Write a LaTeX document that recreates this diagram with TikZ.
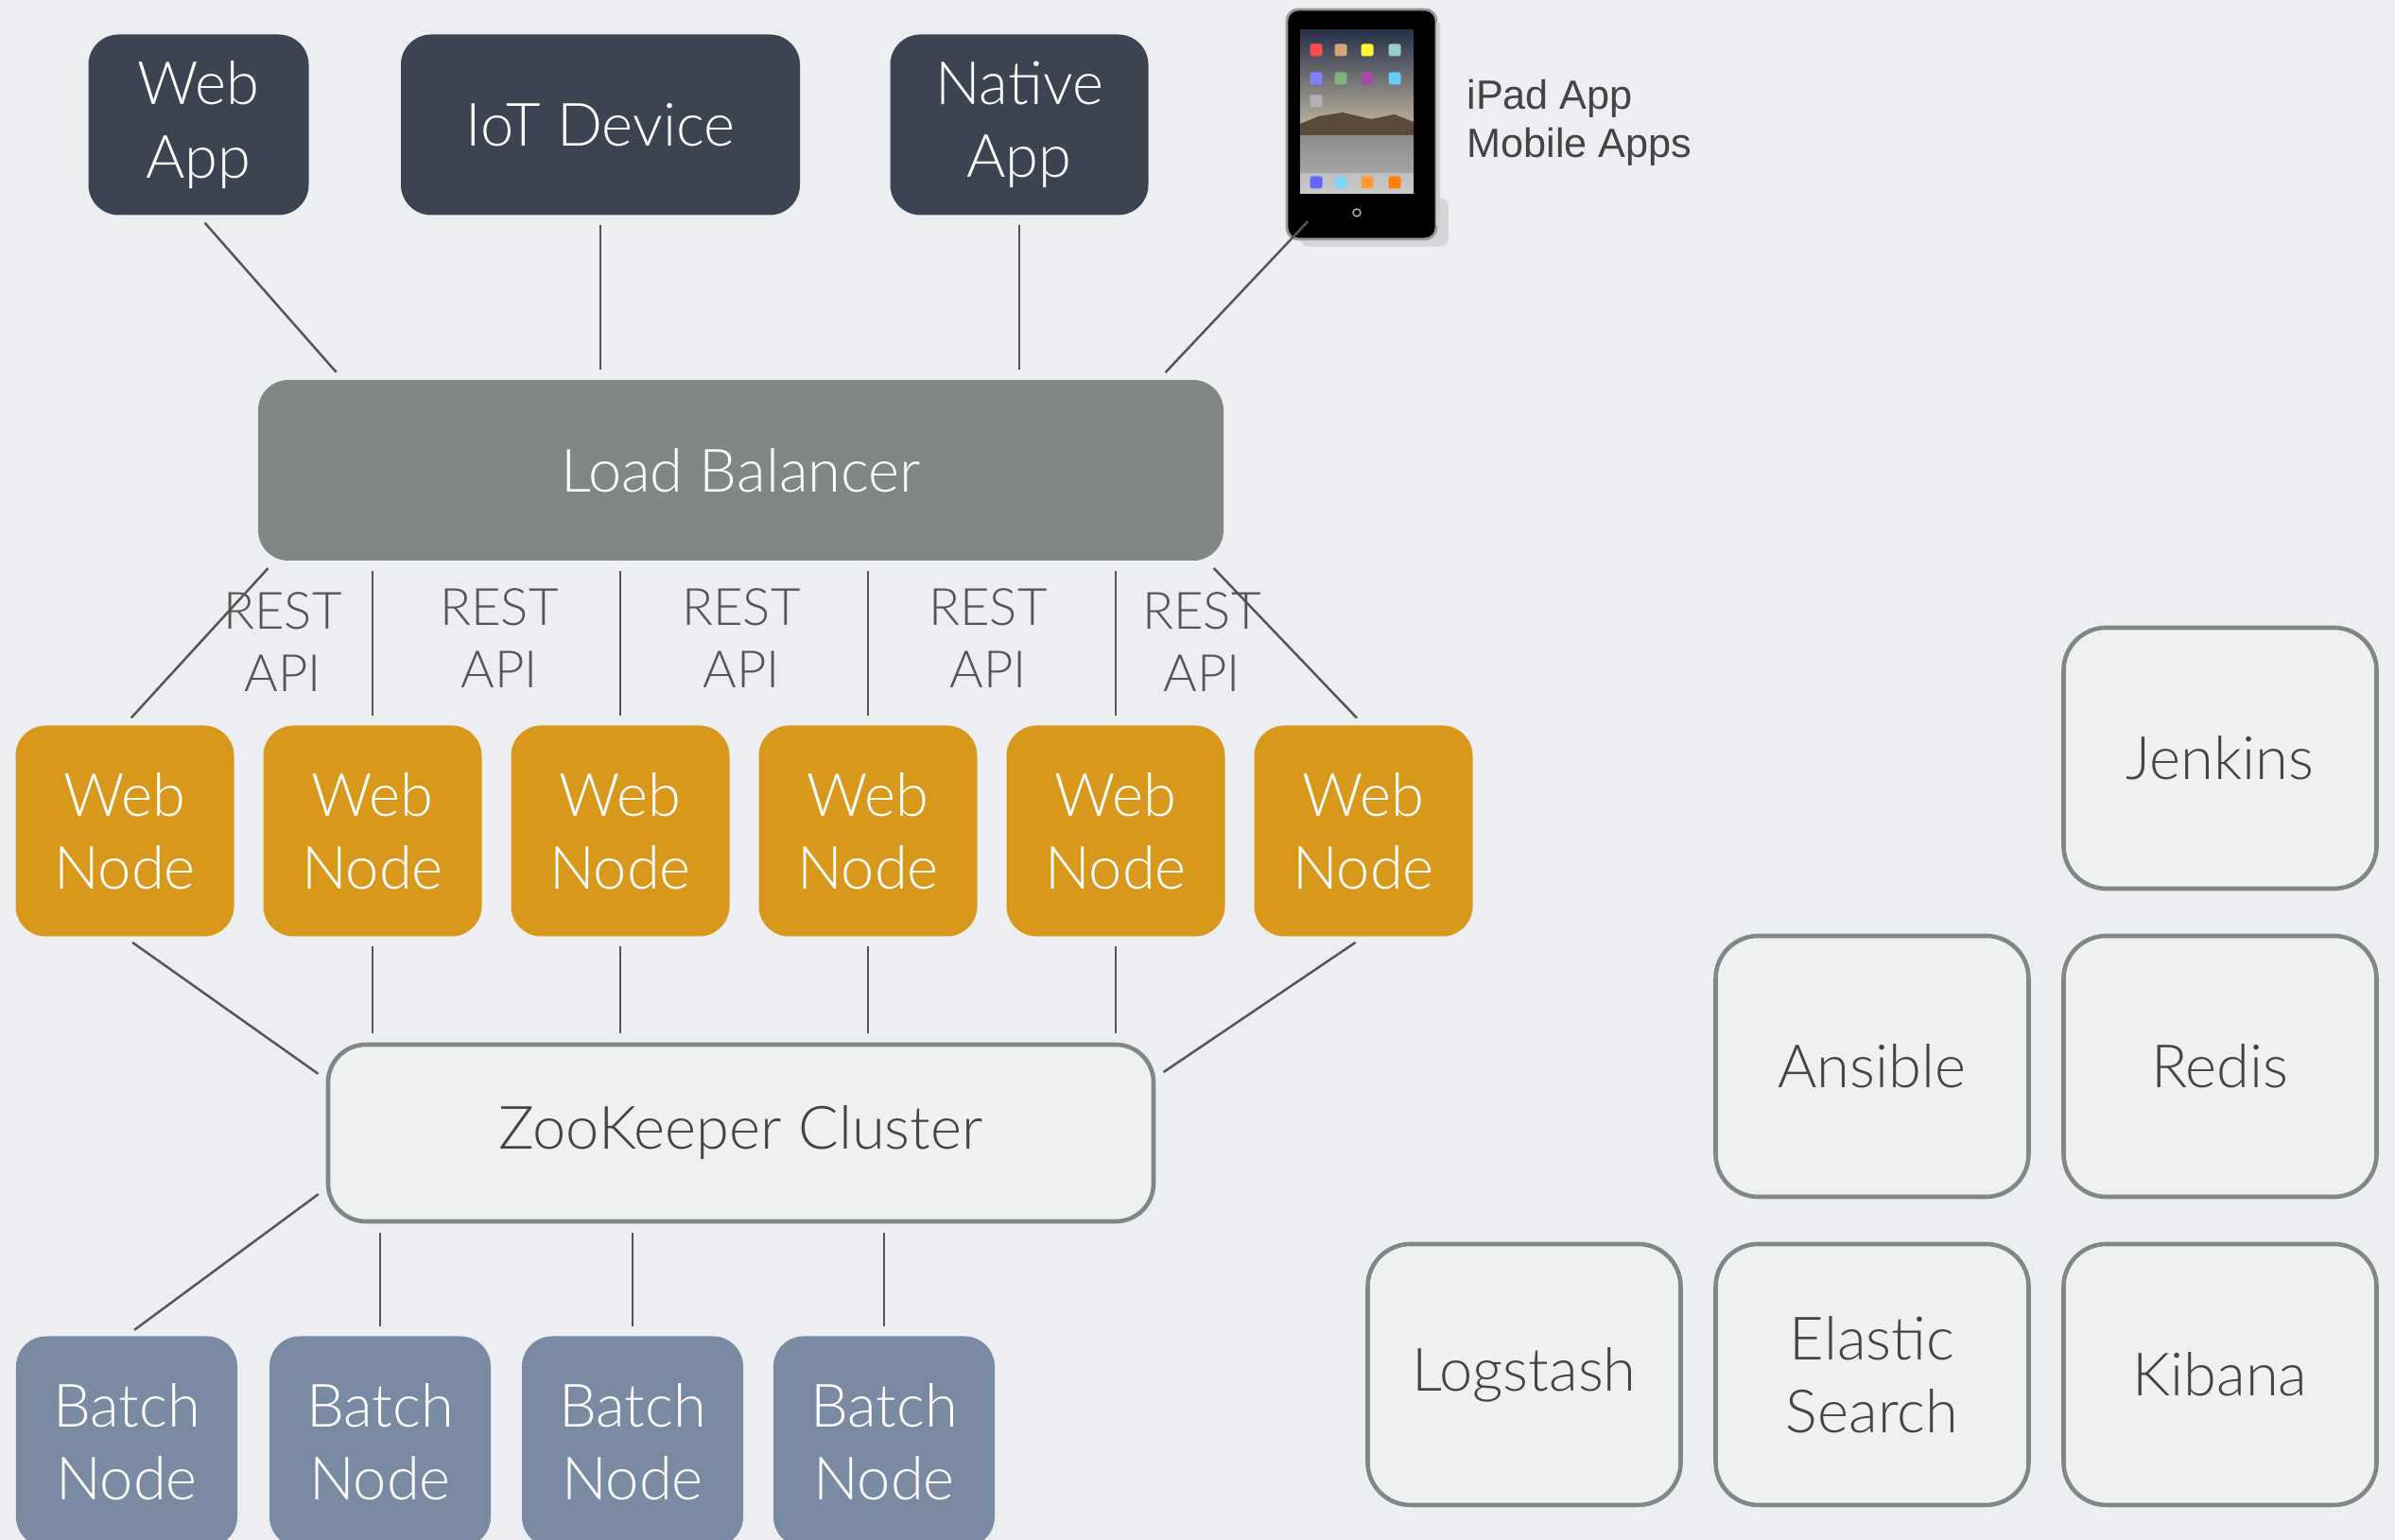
\documentclass[tikz,border=0pt]{standalone}
\usepackage{fontspec}
\setmainfont{Lato}[UprightFont=* Light]
\newfontfamily\ipadfont{Liberation Sans}
\usetikzlibrary{calc}
\definecolor{bgcolor}{HTML}{ECEEF1}
\definecolor{clientdark}{HTML}{3D4451}
\definecolor{lbgray}{HTML}{808784}
\definecolor{weborange}{HTML}{D8981C}
\definecolor{batchblue}{HTML}{7A8AA3}
\definecolor{linegray}{HTML}{555555}
\definecolor{textgray}{HTML}{444444}
\definecolor{toolfill}{HTML}{EEF0F2}
\definecolor{screentop}{HTML}{27314A}
\definecolor{screensky}{HTML}{B9AE9C}
\definecolor{hillbrown}{HTML}{5A4A3A}
\newcommand\boxfont{\fontsize{18}{22}\selectfont}
\newcommand\restfont{\fontsize{15.5}{18.8}\selectfont}
\def\appicon(#1,#2)#3{\fill[#3, rounded corners=0.025cm] ($(#1,#2)+(-0.065,-0.065)$) rectangle ++(0.13,0.13);}
\tikzset{
	box/.style={rounded corners=0.32cm, text=white, align=center, inner sep=0pt, font=\boxfont},
	client/.style={box, fill=clientdark, minimum height=1.91cm},
	webnode/.style={box, fill=weborange, minimum width=2.31cm, minimum height=2.23cm},
	batchnode/.style={box, fill=batchblue, minimum width=2.34cm, minimum height=2.23cm},
	tool/.style={draw=lbgray, line width=1.3pt, fill=toolfill, rounded corners=0.45cm, minimum width=3.31cm, minimum height=2.76cm, text=textgray, align=center, font=\boxfont},
	link/.style={draw=linegray, line width=0.7pt, shorten <=0.1cm, shorten >=0.1cm},
	restlabel/.style={text=linegray, align=center, font=\restfont, inner sep=0pt}
}

\begin{document}
\begin{tikzpicture}
			%%%%% START %%%%%
			
			\clip (0, 0) rectangle (25.33, 16.29);
			\fill[bgcolor] (0, 0) rectangle (25.33, 16.29);
			
			% clients
			\node[client, minimum width=2.33cm] (webapp) at (2.10, 14.97) {Web\\App};
			\node[client, minimum width=4.22cm] (iot) at (6.35, 14.97) {IoT Device};
			\node[client, minimum width=2.73cm] (native) at (10.78, 14.97) {Native\\App};
			
			% ipad
			\fill[black!25, opacity=0.5, rounded corners=0.1cm] (13.75, 13.68) rectangle (15.32, 14.2);
			\draw[fill=black, draw=black!40, line width=0.8pt, rounded corners=0.12cm] (13.61, 13.76) rectangle (15.19, 16.19);
			\draw[black!20, line width=1.2pt] (15.21, 13.9) -- (15.21, 16.05);
			\shade[top color=screentop, bottom color=screensky] (13.75, 14.98) rectangle (14.95, 15.97);
			\fill[hillbrown] (13.75, 14.98) -- (13.95, 15.06) -- (14.2, 15.1) -- (14.5, 15.03) -- (14.75, 15.08) -- (14.95, 15.0) -- (14.95, 14.85) -- (13.75, 14.85) -- cycle;
			\shade[top color=black!45, bottom color=black!30] (13.75, 14.24) rectangle (14.95, 14.85);
			\fill[white, opacity=0.3] (13.75, 14.24) rectangle (14.95, 14.46);
			\appicon(13.92,15.76){red!70}
			\appicon(14.18,15.76){brown!70}
			\appicon(14.46,15.76){yellow!80}
			\appicon(14.75,15.76){green!50!blue!40}
			\appicon(13.92,15.46){blue!50}
			\appicon(14.18,15.46){green!40!black!50}
			\appicon(14.46,15.46){violet!70}
			\appicon(14.75,15.46){cyan!60}
			\appicon(13.92,15.22){gray!60}
			\appicon(13.92,14.36){blue!60}
			\appicon(14.18,14.36){cyan!50}
			\appicon(14.46,14.36){orange!80}
			\appicon(14.75,14.36){orange}
			\draw[gray!60, line width=0.4pt] (14.35, 14.04) circle (0.04);
			\coordinate (ipadfoot) at (13.90, 14.02);
			\node[anchor=west, align=left, text=textgray, font=\ipadfont\fontsize{12.3}{14.6}\selectfont] (ipadtext) at (15.39, 14.99) {iPad App\\Mobile Apps};
			
			% load balancer
			\node[box, fill=lbgray, minimum width=10.21cm, minimum height=1.91cm] (lb) at (7.835, 11.315) {Load Balancer};
			
			\draw[link] (webapp.south) -- ($(lb.north west)+(0.90, 0)$);
			\draw[link] (iot.south) -- (iot.south |- lb.north);
			\draw[link] (native.south) -- (native.south |- lb.north);
			\draw[link] (ipadfoot) -- ($(lb.north east)+(-0.69, 0)$);
			
			% web nodes
			\node[webnode] (web1) at (1.32, 7.50) {Web\\Node};
			\node[webnode] (web2) at (3.94, 7.50) {Web\\Node};
			\node[webnode] (web3) at (6.56, 7.50) {Web\\Node};
			\node[webnode] (web4) at (9.18, 7.50) {Web\\Node};
			\node[webnode] (web5) at (11.80, 7.50) {Web\\Node};
			\node[webnode] (web6) at (14.42, 7.50) {Web\\Node};
			
			\draw[link] ($(lb.south west)+(0.18, 0)$) -- (web1.north);
			\draw[link] (web2.north) -- (web2.north |- lb.south);
			\draw[link] (web3.north) -- (web3.north |- lb.south);
			\draw[link] (web4.north) -- (web4.north |- lb.south);
			\draw[link] (web5.north) -- (web5.north |- lb.south);
			\draw[link] ($(lb.south east)+(-0.18, 0)$) -- (web6.north);
			
			\node[restlabel] (rest1) at (2.99, 9.50) {REST\\API};
			\node[restlabel] (rest2) at (5.28, 9.54) {REST\\API};
			\node[restlabel] (rest3) at (7.84, 9.54) {REST\\API};
			\node[restlabel] (rest4) at (10.45, 9.54) {REST\\API};
			\node[restlabel] (rest5) at (12.71, 9.50) {REST\\API};
			
			% zookeeper
			\node[draw=lbgray, line width=1.3pt, fill=toolfill, rounded corners=0.4cm, minimum width=8.73cm, minimum height=1.87cm, text=textgray, font=\boxfont] (zk) at (7.835, 4.305) {ZooKeeper Cluster};
			
			\draw[link] (web1.south) -- ($(zk.north west)+(0, -0.39)$);
			\draw[link] (web2.south) -- (web2.south |- zk.north);
			\draw[link] (web3.south) -- (web3.south |- zk.north);
			\draw[link] (web4.south) -- (web4.south |- zk.north);
			\draw[link] (web5.south) -- (web5.south |- zk.north);
			\draw[link] (web6.south) -- ($(zk.north east)+(0, -0.37)$);
			
			% batch nodes
			\node[batchnode] (batch1) at (1.34, 1.04) {Batch\\Node};
			\node[batchnode] (batch2) at (4.02, 1.04) {Batch\\Node};
			\node[batchnode] (batch3) at (6.69, 1.04) {Batch\\Node};
			\node[batchnode] (batch4) at (9.35, 1.04) {Batch\\Node};
			
			\draw[link] ($(zk.south west)+(0, 0.37)$) -- (batch1.north);
			\draw[link] (batch2.north) -- (batch2.north |- zk.south);
			\draw[link] (batch3.north) -- (batch3.north |- zk.south);
			\draw[link] (batch4.north) -- (batch4.north |- zk.south);
			
			% tools
			\node[tool] (jenkins) at (23.48, 8.27) {Jenkins};
			\node[tool] (ansible) at (19.80, 5.01) {Ansible};
			\node[tool] (redis) at (23.48, 5.01) {Redis};
			\node[tool] (logstash) at (16.12, 1.75) {Logstash};
			\node[tool] (elastic) at (19.80, 1.75) {Elastic\\Search};
			\node[tool] (kibana) at (23.48, 1.75) {Kibana};
			
			%%%%% END %%%%%
\end{tikzpicture}
\end{document}
